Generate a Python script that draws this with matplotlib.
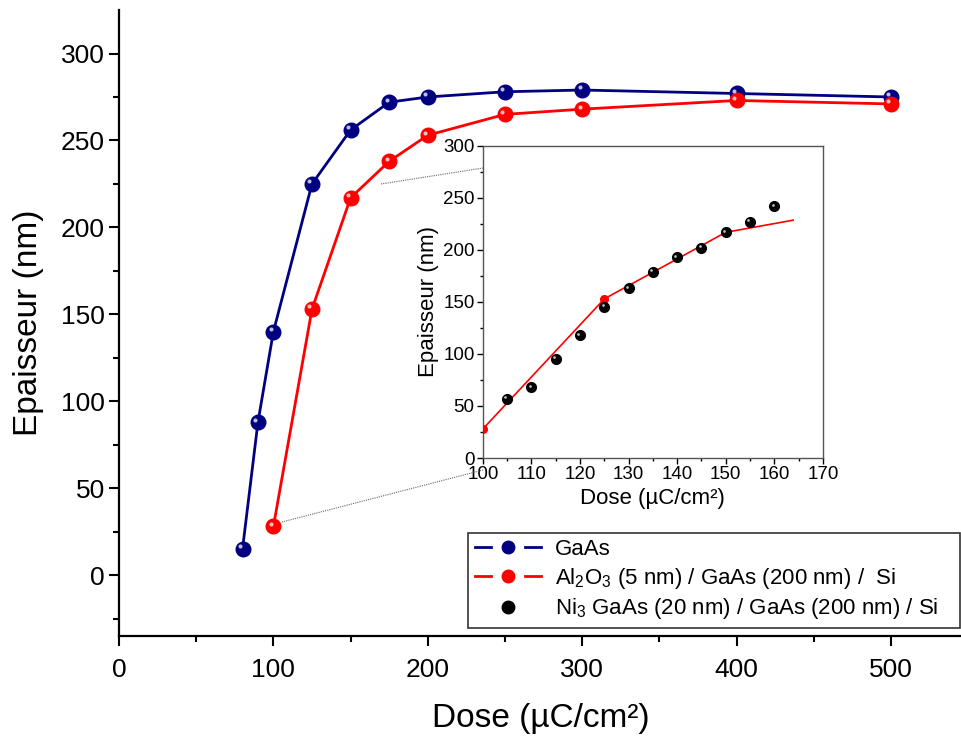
import numpy as np
import matplotlib.pyplot as plt
import matplotlib.transforms as mtransforms
from matplotlib.lines import Line2D
from matplotlib.patches import Rectangle
from matplotlib.legend_handler import HandlerBase

plt.rcParams['font.family'] = ['Liberation Sans', 'DejaVu Sans']
plt.rcParams['mathtext.fontset'] = 'custom'
plt.rcParams['mathtext.rm'] = 'Liberation Sans'
plt.rcParams['mathtext.it'] = 'Liberation Sans'
plt.rcParams['mathtext.default'] = 'regular'

# GaAs
dose_gaas = [80, 90, 100, 125, 150, 175, 200, 250, 300, 400, 500]
ep_gaas = [15, 88, 140, 225, 256, 272, 275, 278, 279, 277, 275]
# Al2O3 / GaAs / Si
dose_al = [100, 125, 150, 175, 200, 250, 300, 400, 500]
ep_al = [28, 153, 217, 238, 253, 265, 268, 273, 271]
# Ni3GaAs / GaAs / Si (inset)
dose_ni = [105, 110, 115, 120, 125, 130, 135, 140, 145, 150, 155, 160]
ep_ni = [57, 68, 95, 118, 145, 163, 179, 193, 202, 217, 227, 242]


def sphere(ax, x, y, color, size, zorder=3):
    # ball marker with a small white highlight
    ax.plot(x, y, 'o', color=color, ms=size, mec=color, zorder=zorder)
    off = mtransforms.offset_copy(ax.transData, fig=ax.figure, x=-size * 0.18, y=size * 0.18, units='points')
    ax.plot(x, y, 'o', color='white', ms=size * 0.28, mew=0, alpha=0.75, transform=off, zorder=zorder + 0.1)


class HandlerBall(HandlerBase):
    # line - ball - line, with a small gap each side of the ball
    def create_artists(self, legend, orig_handle, xdescent, ydescent, width, height, fontsize, trans):
        c = orig_handle.get_color()
        y = height / 2 - ydescent
        x0 = -xdescent
        x1 = x0 + width
        cx = (x0 + x1) / 2
        g = width * 0.26
        out = []
        if orig_handle.get_linestyle() != 'None':
            out.append(Line2D([x0, cx - g], [y, y], color=c, lw=2, transform=trans))
            out.append(Line2D([cx + g, x1], [y, y], color=c, lw=2, transform=trans))
        out.append(Line2D([cx], [y], ls='none', marker='o', ms=9, color=c, transform=trans))
        return out


fig = plt.figure(figsize=(9.62, 7.38), dpi=100)
ax = fig.add_axes([0.1237, 0.1382, 0.8763, 0.8482])

ax.plot(dose_gaas, ep_gaas, '-', color='#000080', lw=2, zorder=2)
sphere(ax, dose_gaas, ep_gaas, '#000080', 10.5)
ax.plot(dose_al, ep_al, '-', color='#ff0000', lw=2, zorder=2)
sphere(ax, dose_al, ep_al, '#ff0000', 10.5)

ax.set_xlim(0, 546)
ax.set_ylim(-35, 325)
ax.set_xticks(np.arange(0, 501, 100))
ax.set_xticks(np.arange(50, 546, 100), minor=True)
ax.set_yticks(np.arange(0, 301, 50))
ax.set_yticks(np.arange(-25, 325, 50), minor=True)
ax.spines['top'].set_visible(False)
ax.spines['right'].set_visible(False)
ax.spines['left'].set_linewidth(1.6)
ax.spines['bottom'].set_linewidth(1.6)
ax.tick_params(which='major', direction='out', length=7, width=1.5, labelsize=19)
ax.tick_params(which='minor', direction='out', length=4, width=1.5)
ax.tick_params(axis='x', pad=9)
ax.tick_params(axis='y', pad=3)
ax.set_xlabel('Dose (µC/cm²)', fontsize=24, labelpad=15)
ax.set_ylabel('Epaisseur (nm)', fontsize=24, labelpad=12)

h1 = Line2D([], [], color='#000080')
h2 = Line2D([], [], color='#ff0000')
h3 = Line2D([], [], color='black', ls='none')
leg = ax.legend([h1, h2, h3],
                ['GaAs', 'Al$_2$O$_3$ (5 nm) / GaAs (200 nm) /  Si',
                 'Ni$_3$ GaAs (20 nm) / GaAs (200 nm) / Si'],
                handler_map={Line2D: HandlerBall()},
                loc='lower left', mode='expand',
                bbox_to_anchor=(468 / 962, 110 / 738, 492 / 962, 91 / 738), bbox_transform=fig.transFigure,
                fontsize=16, frameon=True, fancybox=False, edgecolor='black',
                handlelength=3.0, handletextpad=0.6, borderpad=0.3, labelspacing=0.25,
                borderaxespad=0)
leg.get_frame().set_linewidth(1.2)

# inset
axin = fig.add_axes([0.502, 0.3794, 0.3534, 0.4228])
ln, = axin.plot(dose_al, ep_al, '-', color='#ff0000', lw=1.2, zorder=2)
ln.set_clip_path(Rectangle((100, -10), 64, 320, transform=axin.transData))
axin.plot(dose_al[:3], ep_al[:3], 'o', color='#ff0000', ms=5.5, zorder=3)
sphere(axin, dose_ni, ep_ni, 'black', 7, zorder=4)
axin.set_xlim(100, 170)
axin.set_ylim(0, 300)
axin.set_xticks(np.arange(100, 171, 10))
axin.set_xticks(np.arange(105, 170, 10), minor=True)
axin.set_yticks(np.arange(0, 301, 50))
axin.set_yticks(np.arange(25, 300, 50), minor=True)
for s in axin.spines.values():
    s.set_color('#555555')
    s.set_linewidth(1)
axin.tick_params(which='major', direction='out', length=4, width=1, labelsize=13.5, pad=2)
axin.tick_params(which='minor', direction='out', length=2, width=1)
axin.set_xlabel('Dose (µC/cm²)', fontsize=16, labelpad=3)
axin.set_ylabel('Epaisseur (nm)', fontsize=16, labelpad=3)

# zoom connector lines
fig.add_artist(Line2D([282 / 962, 483 / 962], [1 - 522 / 738, 1 - 470 / 738],
                      transform=fig.transFigure, color='#666666', lw=0.8, ls=(0, (1, 1))))
fig.add_artist(Line2D([381 / 962, 483 / 962], [1 - 184 / 738, 1 - 168 / 738],
                      transform=fig.transFigure, color='#666666', lw=0.8, ls=(0, (1, 1))))

fig.savefig('out.png', dpi=100)
